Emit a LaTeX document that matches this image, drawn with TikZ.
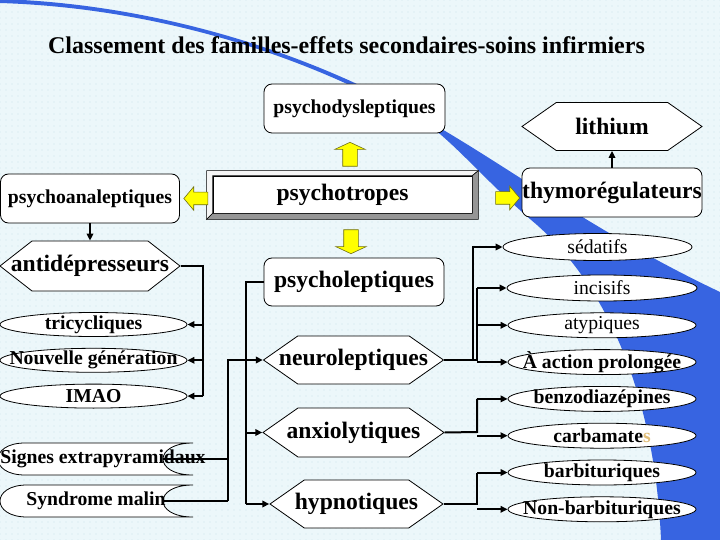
\documentclass[tikz,border=0pt]{standalone}
\usepackage{fontspec}
\setmainfont{Liberation Serif}
\usetikzlibrary{arrows.meta,positioning,calc,shapes.geometric,shapes.symbols,shapes.arrows,patterns.meta}
\definecolor{bgblue}{RGB}{236,247,250}
\definecolor{dotblue}{RGB}{150,190,205}
\definecolor{swoosh}{RGB}{55,100,225}
\definecolor{arrowyellow}{RGB}{255,255,0}
\definecolor{arrowedge}{RGB}{110,110,20}
\definecolor{bevelgray}{RGB}{150,150,150}
\definecolor{tan1}{RGB}{225,190,120}

\begin{document}
\begin{tikzpicture}[x=1pt,y=-1pt,node distance=11pt,
  bigtxt/.style={font=\bfseries\fontsize{23.6}{26}\selectfont},
  smalltxt/.style={font=\bfseries\fontsize{19.7}{22}\selectfont},
  plaintxt/.style={font=\fontsize{19.7}{22}\selectfont},
  rbox/.style={draw,fill=white,rounded corners=8pt,minimum width=181pt,minimum height=49pt,inner sep=0pt,line width=.8pt},
  hexa/.style={signal,signal to=east and west,signal pointer angle=70,draw,fill=white,minimum width=180pt,minimum height=48pt,inner sep=0pt,line width=.8pt},
  oval/.style={ellipse,draw,fill=white,minimum width=188pt,minimum height=25pt,inner sep=0pt,line width=.8pt},
  yarrow/.style={single arrow,draw=arrowedge,fill=arrowyellow,inner xsep=0pt,inner ysep=7pt,line width=.6pt,minimum height=24pt,single arrow head extend=8pt,single arrow tip angle=130},
  yside/.style={inner ysep=6pt,single arrow head extend=5.5pt,single arrow tip angle=100},
  link/.style={line width=2pt},
  feed/.style={-{Triangle[length=7pt,width=6.5pt]}}]
\useasboundingbox (0,0) rectangle (720,540);
\fill[bgblue] (0,0) rectangle (720,540);
\fill[pattern={Dots[distance=6pt,radius=.45pt]},pattern color=dotblue] (0,0) rectangle (720,540);
% blue swoosh behind everything
\fill[swoosh] (0,-1) .. controls (160,4) and (320,55) .. (440,128) .. controls (520,175) and (600,235) .. (720,292) -- (720,540) -- (661,540) .. controls (655,400) and (610,290) .. (537,225) .. controls (490,185) and (470,160) .. (440,134) .. controls (320,58) and (160,8) .. (0,3) -- cycle;

\node[font=\bfseries\fontsize{24}{28}\selectfont] (title) at (346.5,45) {Classement des familles-effets secondaires-soins infirmiers};

\node[rbox,smalltxt] (dysl) at (354.5,108.5) {psychodysleptiques};
\node[hexa,label={[bigtxt]center:lithium}] (lith) at (612,126.5) {};
\node[bigtxt,draw,fill=white,line width=.8pt,minimum width=259pt,minimum height=37pt,inner sep=0pt] (ptrop) at (342.5,194.5) {psychotropes};
\draw[line width=.6pt,fill=gray!8] ([xshift=-6pt,yshift=5pt]ptrop.north west) -- ([xshift=6pt,yshift=5pt]ptrop.north east) -- (ptrop.north east) -- (ptrop.north west) -- (ptrop.south west) -- ([xshift=-6pt,yshift=-6pt]ptrop.south west) -- cycle;
\draw[line width=.6pt,fill=bevelgray] ([xshift=6pt,yshift=5pt]ptrop.north east) -- ([xshift=6pt,yshift=-6pt]ptrop.south east) -- ([xshift=-6pt,yshift=-6pt]ptrop.south west) -- (ptrop.south west) -- (ptrop.south east) -- (ptrop.north east) -- cycle;
\node[rbox,smalltxt,minimum width=179pt] (analep) at (90,198.5) {psychoanaleptiques};
\node[rbox,bigtxt,minimum width=180pt] (thymo) at (612,192.5) {thymorégulateurs};
\node[hexa,signal pointer angle=76,minimum height=50pt,label={[bigtxt]center:antidépresseurs}] (antid) at (90,266) {};

\node[oval,minimum width=187pt,minimum height=24pt,label={[smalltxt]center:tricycliques}] (tri) at (93.5,324.5) {};
\node[oval,minimum width=187pt,minimum height=24pt,below=of tri,label={[smalltxt]center:Nouvelle génération}] (nouv) {};
\node[oval,minimum width=187pt,minimum height=24pt,below=of nouv,label={[smalltxt]center:IMAO}] (imao) {};

\node[rbox,bigtxt,minimum width=180pt,minimum height=48pt] (psychol) at (354,282) {psycholeptiques};
\node[hexa,label={[bigtxt]center:neuroleptiques}] (neuro) at (353.5,360) {};
\node[hexa,minimum width=181pt,minimum height=49pt,label={[bigtxt]center:anxiolytiques}] (anxio) at (353.5,432.5) {};
\node[hexa,minimum width=173pt,label={[bigtxt]center:hypnotiques}] (hypno) at (356.5,504) {};

\draw[line width=.8pt,fill=white] (193,443) -- (25,443) .. controls (-11,443) and (-11,475) .. (25,475) -- (193,475) .. controls (153,475) and (153,443) .. (193,443) -- cycle;
\draw[line width=.8pt,fill=white] (193,485) -- (27,485) .. controls (-9,485) and (-9,517) .. (27,517) -- (193,517) .. controls (153,517) and (153,485) .. (193,485) -- cycle;
\node[smalltxt,inner sep=0pt] (signes) at (103,459) {\makebox[120pt]{Signes extrapyramidaux}};
\node[smalltxt,inner sep=0pt] (malin) at (96,501) {\makebox[134pt]{Syndrome malin}};

\node[oval,minimum width=189pt,minimum height=27pt,label={[plaintxt]center:sédatifs}] (sed) at (597.5,247) {};
\node[oval,minimum width=190pt,minimum height=26pt,label={[plaintxt]center:incisifs}] (inc) at (602,288) {};
\node[oval,below=of inc,label={[plaintxt]center:atypiques}] (atyp) {};
\node[oval,below=of atyp,label={[smalltxt]center:À action prolongée}] (act) {};
\node[oval,below=of act,label={[smalltxt]center:benzodiazépines}] (benzo) {};
\node[oval,below=of benzo,label={[smalltxt]center:carbamate\textcolor{tan1}{s}}] (carb) {};
\node[oval,below=of carb,label={[smalltxt]center:barbituriques}] (barb) {};
\node[oval,below=of barb,label={[smalltxt]center:Non-barbituriques}] (nonb) {};

% yellow block arrows round psychotropes
\node[yarrow,rotate=90] (upArr) at (350,156) {};
\node[yarrow,rotate=270] (downArr) at (351,240) {};
\node[yarrow,yside,rotate=180] (leftArr) at (198.5,198.5) {};
\node[yarrow,yside] (rightArr) at (505,198) {};

\draw[link,feed] (analep) -- (antid);
\draw[line width=1.6pt,feed] (thymo) -- (lith);

\coordinate (adbus) at (203,266);
\draw[link] (antid.east) -- (adbus) -- (adbus |- imao.east);
\foreach \e in {tri,nouv,imao}{\draw[link,feed] (adbus |- \e.east) -- (\e.east);}

\coordinate (plbus) at (246,282);
\draw[link] (psychol.west) -- (plbus) -- (plbus |- hypno.west);
\foreach \e in {neuro,anxio,hypno}{\draw[link,feed] (plbus |- \e.west) -- (\e.west);}

\coordinate (sebus) at (228,360);
\draw[link] (plbus |- neuro.west) -- (sebus) -- (sebus |- malin.east);
\foreach \e in {signes,malin}{\draw[link] (sebus |- \e.east) -- (\e.east);}

\coordinate (nrbus) at (477,360);
\draw[link] (neuro.east) -- (nrbus) -- (nrbus |- inc.west);
\draw[link,feed] ([xshift=-4pt]nrbus) |- (sed.west);
\foreach \e in {inc,atyp,act}{\draw[link,feed] (nrbus |- \e.west) -- (\e.west);}

\coordinate (axbus) at (477,432);
\draw[link] (anxio.east) -- (axbus) -- (axbus |- benzo.west);
\foreach \e in {benzo,carb}{\draw[link,feed] (axbus |- \e.west) -- (\e.west);}

\coordinate (hybus) at (477,504);
\draw[link] (hypno.east) -- (hybus) -- (hybus |- barb.west);
\foreach \e in {barb,nonb}{\draw[link,feed] (hybus |- \e.west) -- (\e.west);}
\end{tikzpicture}
\end{document}
